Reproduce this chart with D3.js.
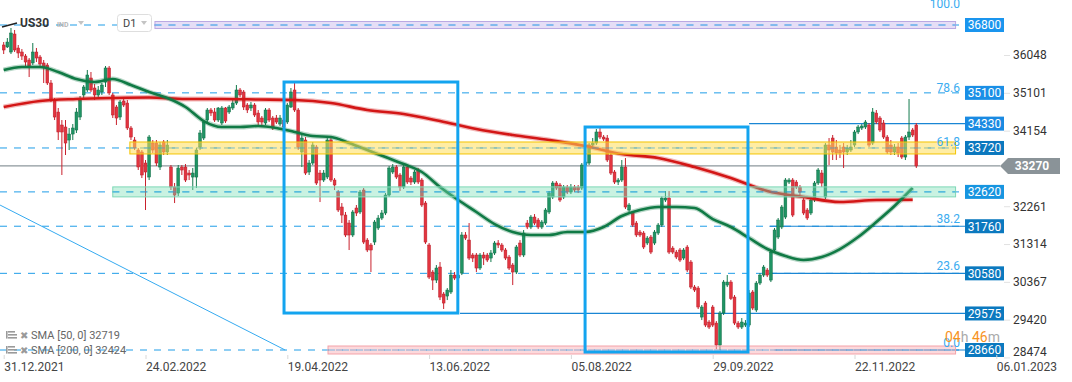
<!DOCTYPE html>
<html>
<head>
<meta charset="utf-8">
<script src="https://cdn.jsdelivr.net/npm/d3@7"></script>
<style>
  body { margin: 0; background: #fff; }
  svg { display: block; font-family: Roboto, "Open Sans", sans-serif; }
</style>
</head>
<body>
<script>
const W = 1072;
const H = 382;

// daily candles, 31.12.2021 .. 15.12.2022
const openP = [
  36299,36249,36123,36574,36224,36123,36023,35923,35848,36123,
  35998,35848,35798,35347,34921,34620,34295,34245,33919,34069,
  34170,34495,35047,35172,35472,35222,35047,35122,35372,35723,
  35047,34746,34495,34896,34846,34220,33919,33669,33619,33343,
  32992,33844,33844,33243,33869,33619,33243,32742,32591,33243,
  33243,33092,32992,32992,33744,33969,34420,34671,34621,34420,
  34345,34721,34621,34721,34846,35172,35122,34796,34721,34796,
  34595,34470,34345,34671,34470,34470,34320,34420,34370,34746,
  35172,34671,33619,33919,33118,33343,33744,33092,32917,32992,
  33919,32917,32616,32241,32040,31840,31540,32216,32116,32667,
  31414,31289,31364,31715,31965,32091,32541,33118,33243,33043,
  32742,33243,32967,32867,33168,32917,32341,31289,30612,30412,
  30738,30062,30011,30112,30537,30462,30587,31540,31414,31039,
  31039,30713,31039,31039,30963,31089,31339,31289,31164,30988,
  30788,30613,31339,31039,31840,31740,31990,31915,31740,31840,
  32116,32491,32842,32792,32491,32742,32616,32742,32742,32717,
  33293,33343,33794,33844,34120,33994,33969,33544,33118,32867,
  32917,33243,32166,32091,31840,31614,31589,31339,31489,31339,
  31589,31790,32416,32466,31212,31113,31164,30963,31239,30863,
  30237,30212,29485,29836,29360,29736,29335,28784,29586,30287,
  30362,29986,29335,29235,29285,29285,30112,29661,30337,30537,
  30663,30412,31164,31489,31740,31990,32867,32917,32867,32742,
  32416,32166,32091,32416,32842,33092,32491,33794,33969,33744,
  33669,33744,33619,33669,33794,34120,34220,34245,34295,33844,
  34595,34470,34345,33994,33794,33619,33744,33969,33493,33994,
  34170,34295
];
const highP = [
  36374,36474,36725,36675,36299,36198,36073,35973,36349,36224,
  36048,35923,35848,35422,34971,34721,34420,34420,34220,34320,
  34721,35021,35297,35673,35623,35322,35272,35347,35773,35773,
  35097,34796,34921,34971,34921,34270,33994,33718,33669,33418,
  34045,33919,33919,33869,33919,33919,33293,32842,33293,33293,
  33318,33168,33218,33719,34170,34420,34721,34721,34721,34746,
  34771,34746,34796,34921,35297,35222,35172,34846,34871,34846,
  34671,34520,34721,34721,34520,34546,34546,34470,34846,35222,
  35372,34721,34045,33994,33418,33869,33794,33168,33168,33969,
  33969,32967,32667,32341,32116,31915,32166,32291,32667,32717,
  31464,31339,31915,32040,32166,32591,33268,33318,33293,33092,
  33343,33293,33017,33168,33218,32967,32391,31339,30663,30788,
  30863,30112,30212,30663,30613,30663,31614,31614,31840,31089,
  31089,31089,31114,31089,31164,31389,31414,31339,31214,31039,
  30838,31289,31414,31665,31915,32040,32065,31965,31915,32216,
  32641,32892,32892,32842,32792,32792,32817,32792,32792,33343,
  33544,33844,33969,34195,34220,34045,34045,33644,33168,32967,
  33418,33468,32341,32141,31890,31665,31639,31514,31540,31665,
  31840,32510,32641,32641,31262,31164,31214,31214,31289,30913,
  30287,30262,29786,29886,29410,29786,29385,29636,30412,30538,
  30412,30036,29385,29460,29410,30162,30162,30387,30587,30788,
  30713,31164,31715,31965,32291,32967,32967,32967,32917,32792,
  32466,32216,32466,32892,33218,33168,33844,33969,34045,33919,
  33794,33844,33794,33919,34170,34295,34320,34420,34345,34721,
  34671,34520,34420,34045,33919,33819,33844,34019,34045,34946,
  34220,34345
];
const lowP = [
  36073,36224,36073,36123,35973,35923,35773,35497,35798,35873,
  35773,35347,35297,34871,34420,33919,33043,33544,33669,33919,
  34095,34420,34971,35122,35122,34921,34971,35047,35247,35047,
  34470,34295,34420,34746,34170,33919,33669,33168,32967,32166,
  32917,33593,33268,33168,33544,33544,32667,32341,32516,33043,
  32867,32917,32667,32717,33669,33919,34370,34520,34370,34370,
  34295,34345,34571,34671,34796,34997,34671,34595,34645,34495,
  34295,34245,34295,34370,34170,34320,34270,34195,34320,34721,
  34621,33669,33243,33043,33043,33293,32792,32366,32867,32942,
  32867,32667,32116,31840,31489,31164,31489,32015,32065,31314,
  31113,30613,31289,31665,31915,32040,32491,33067,32942,32642,
  32692,32817,32792,32817,32817,32241,31314,30437,30162,30337,
  29911,29687,29911,30062,30412,30412,30537,31414,30913,30863,
  30613,30663,30788,30863,30863,31039,31214,31113,30913,30663,
  30287,30563,30988,30988,31689,31689,31790,31689,31689,31790,
  32065,32441,32667,32366,32441,32566,32566,32616,32591,32667,
  33243,33293,33744,33794,33944,33894,33368,33043,32817,32792,
  32867,32191,32116,31740,31489,31489,31189,31289,31063,31289,
  31540,31740,32366,31063,31063,30938,30863,30913,30613,30187,
  30112,29686,29410,29235,29185,29235,28684,28659,29536,30237,
  29911,29285,29185,29185,29235,29235,29661,29611,30287,30487,
  30487,30362,31113,31439,31689,31940,32817,31990,32692,32541,
  32040,31915,32040,32366,32792,32742,32441,33293,33418,33418,
  33468,33218,33544,33619,33744,34069,34170,34195,33744,33794,
  34320,34120,33944,33569,33544,33544,33493,33443,33418,33919,
  33994,33218
];
const closeP = [
  36174,36374,36599,36174,36098,36023,35873,35773,36123,35973,
  35823,35748,35347,34921,34495,34120,34120,33844,34069,34220,
  34620,34921,35247,35548,35172,35047,35172,35297,35723,35097,
  34546,34470,34871,34796,34220,33994,33718,33243,33043,33118,
  33994,33669,33343,33794,33619,33794,32742,32541,33218,33168,
  32917,33043,33092,33669,34095,34370,34671,34596,34420,34721,
  34721,34395,34746,34846,35172,35047,34746,34671,34796,34546,
  34370,34370,34671,34420,34220,34370,34470,34245,34796,35122,
  34671,33744,33969,33092,33343,33794,32842,32917,33092,33919,
  32917,32792,32166,32040,31540,31540,32116,32091,32616,31364,
  31164,31164,31865,31965,32091,32541,33218,33243,32992,32742,
  33243,32867,32867,33118,32867,32291,31364,30487,30412,30713,
  29986,29836,30162,30537,30462,30537,31540,31464,30963,30963,
  30713,31039,30963,30913,31089,31339,31289,31164,30963,30713,
  30613,31239,31039,31589,31740,31990,31840,31740,31865,32166,
  32591,32842,32717,32416,32742,32616,32742,32667,32667,33293,
  33368,33794,33844,34120,33994,33944,33418,33092,32867,32917,
  33243,32241,32291,31790,31540,31540,31239,31464,31113,31614,
  31790,32466,32466,31113,31113,30988,30913,31164,30663,30237,
  30162,29736,29736,29285,29235,29285,28784,29586,30362,30362,
  29951,29335,29235,29360,29335,30086,29711,30337,30537,30738,
  30537,31113,31665,31915,32241,32917,32917,32040,32742,32616,
  32091,31965,32416,32842,33168,32842,33794,33669,33619,33594,
  33594,33619,33719,33744,34120,34245,34270,34370,33794,34620,
  34370,34170,33994,33619,33619,33744,33594,33493,33994,34120,
  34045,33270
];

// moving averages (every 5th / 10th bar)
const sma50Idx = d3.range(0, 251, 5);
const sma50Val = [
  35673,35748,35748,35623,35447,35372,35447,35297,35122,34971,
  34746,34395,34245,34245,34270,34220,34120,34020,33994,33844,
  33669,33493,33318,33118,32742,32416,32116,31815,31615,31540,
  31540,31615,31615,31740,32015,32166,32241,32241,32216,31940,
  31740,31465,31189,31013,30913,30988,31189,31490,31865,32266,
  32719
];
const sma200Idx = d3.range(0, 251, 10);
const sma200Val = [
  34746,34896,34946,34971,34984,34946,34946,34934,34921,34846,
  34671,34571,34395,34195,34045,33919,33769,33569,33469,33243,
  32967,32642,32491,32366,32416,32424
];

// horizontal levels and labels
const levels = [36800, 35100, 34330, 33720, 32620, 31760, 30580, 29575, 28660];
const dashedLevels = [36800, 35100, 33720, 32620, 31760, 30580, 28660];
const fibLevels = ["0.0", "23.6", "38.2", "61.8", "78.6", "100.0"];
const fibLow = 28660;
const fibHigh = 36800;
const lastPrice = 33270;
const axisTicks = [36048, 35101, 34154, 32261, 31314, 30367, 29420, 28474];
const dateTickIdx = [0, 39, 78, 117, 156, 195, 234, 273];
const dateLabels = ["31.12.2021", "24.02.2022", "19.04.2022", "13.06.2022",
  "05.08.2022", "29.09.2022", "22.11.2022", "06.01.2023"];

// drawings on the chart (bar index / price)
const boxStart = [77.1, 159.9];
const boxEnd = [124.9, 204.7];
const boxTop = [35372, 34245];
const boxBottom = [29586, 28609];
const bandLevel = [36800, 33720, 32620, 28660];
const bandHalf = [88, 150, 125, 100];
const bandStart = [41.6, 34.7, 30, 89.2];
const solidLevel = [34330, 29575, 31760, 30580, 28660];
const solidStart = [205, 125.5, 210.6, 210.6, 212];
const trendIdx = [-1, 77.4];
const trendVal = [32290, 28660];

const svg = d3
  .select("body")
  .append("svg")
  .attr("width", W)
  .attr("height", H);

const x = d3.scaleLinear().domain([0, 273]).range([3.7, 996.3]);
const y = d3.scaleLinear().domain([36800, 28660]).range([25, 350]);
const endIdx = 263;

// dashed levels
svg
  .selectAll("line.lvl")
  .data(dashedLevels)
  .enter()
  .append("line")
  .attr("x1", 0)
  .attr("x2", x(endIdx))
  .attr("y1", d => y(d))
  .attr("y2", d => y(d))
  .attr("stroke", "#1f9de8")
  .attr("stroke-width", 1)
  .attr("stroke-dasharray", "7,7");

// solid levels (fib / swing lines)
svg
  .selectAll("line.sol")
  .data(solidLevel)
  .enter()
  .append("line")
  .attr("x1", (d, i) => x(solidStart[i]))
  .attr("x2", x(264.4))
  .attr("y1", d => y(d))
  .attr("y2", d => y(d))
  .attr("stroke", "#1a86d4")
  .attr("stroke-width", 1.2);

// current price line
svg
  .append("line")
  .attr("x1", 0)
  .attr("x2", 1000)
  .attr("y1", y(lastPrice))
  .attr("y2", y(lastPrice))
  .attr("stroke", "#8d979c")
  .attr("stroke-width", 1.2);

// trend line
svg
  .append("line")
  .attr("x1", x(trendIdx[0]))
  .attr("y1", y(trendVal[0]))
  .attr("x2", x(trendIdx[1]))
  .attr("y2", y(trendVal[1]))
  .attr("stroke", "#35aaf0")
  .attr("stroke-width", 1);

// candles
const candles = closeP.map((c, i) => ({ i, o: openP[i], h: highP[i], l: lowP[i], c }));
const up = d => d.c >= d.o;

svg
  .append("g")
  .selectAll("line")
  .data(candles)
  .enter()
  .append("line")
  .attr("x1", d => x(d.i))
  .attr("x2", d => x(d.i))
  .attr("y1", d => y(d.h))
  .attr("y2", d => y(d.l))
  .attr("stroke", d => (up(d) ? "#137a4d" : "#c9212d"))
  .attr("stroke-width", 1);

svg
  .append("g")
  .selectAll("rect")
  .data(candles)
  .enter()
  .append("rect")
  .attr("x", d => x(d.i) - 1.4)
  .attr("width", 2.8)
  .attr("y", d => y(Math.max(d.o, d.c)))
  .attr("height", d => Math.max(1, Math.abs(y(d.o) - y(d.c))))
  .attr("fill", d => (up(d) ? "#1f9464" : "#e3343f"))
  .attr("stroke", d => (up(d) ? "#0f6d45" : "#b81d29"))
  .attr("stroke-width", 0.5);

// moving averages
const smaLine = d3
  .line()
  .x(d => x(d[0]))
  .y(d => y(d[1]))
  .curve(d3.curveMonotoneX);

const sma50 = sma50Idx.map((d, i) => [d, sma50Val[i]]);
const sma200 = sma200Idx.map((d, i) => [d, sma200Val[i]]);

[[sma200, "#d31616"], [sma50, "#107a45"]].forEach(([pts, col]) => {
  svg
    .append("path")
    .attr("d", smaLine(pts))
    .attr("fill", "none")
    .attr("stroke", col)
    .attr("stroke-opacity", 0.3)
    .attr("stroke-width", 5);
  svg
    .append("path")
    .attr("d", smaLine(pts))
    .attr("fill", "none")
    .attr("stroke", col)
    .attr("stroke-width", 2.6);
});

// zones
const bandFill = ["rgba(205,190,238,0.5)", "rgba(255,222,90,0.55)", "rgba(120,222,180,0.4)", "rgba(250,180,185,0.5)"];
const bandStroke = ["#bba8e2", "#f4c400", "#7fd7b6", "#f3a3a8"];

svg
  .selectAll("rect.band")
  .data(bandLevel)
  .enter()
  .append("rect")
  .attr("x", (d, i) => x(bandStart[i]))
  .attr("width", (d, i) => x(261.8) - x(bandStart[i]))
  .attr("y", (d, i) => y(d + bandHalf[i]))
  .attr("height", (d, i) => y(d - bandHalf[i]) - y(d + bandHalf[i]))
  .attr("fill", (d, i) => bandFill[i])
  .attr("stroke", (d, i) => bandStroke[i])
  .attr("stroke-width", 1);

// dashed lines again over the zones
svg
  .selectAll("line.lvl2")
  .data(bandLevel)
  .enter()
  .append("line")
  .attr("x1", (d, i) => x(bandStart[i]))
  .attr("x2", x(261.8))
  .attr("y1", d => y(d))
  .attr("y2", d => y(d))
  .attr("stroke", "#1f9de8")
  .attr("stroke-opacity", 0.6)
  .attr("stroke-dasharray", "7,7");

// blue boxes
svg
  .selectAll("rect.box")
  .data(boxStart)
  .enter()
  .append("rect")
  .attr("x", d => x(d))
  .attr("width", (d, i) => x(boxEnd[i]) - x(d))
  .attr("y", (d, i) => y(boxTop[i]))
  .attr("height", (d, i) => y(boxBottom[i]) - y(boxTop[i]))
  .attr("fill", "none")
  .attr("stroke", "#13a4ef")
  .attr("stroke-width", 3);

// fib labels
svg
  .selectAll("text.fib")
  .data(fibLevels)
  .enter()
  .append("text")
  .attr("x", 960)
  .attr("y", d => (d === "100.0" ? 8 : y(fibLow + (+d / 100) * (fibHigh - fibLow)) - 3))
  .attr("text-anchor", "end")
  .style("font-size", "12px")
  .style("fill", "#3aacf0")
  .text(d => d);

// right level boxes
const boxColor = ["#1a95ee", "#1a8fe6", "#1a8ae2", "#0b78be", "#1795e0", "#0b79bf", "#0b79bf", "#0b79bf", "#0b79bf"];
const rl = svg.append("g");
rl.selectAll("rect")
  .data(levels)
  .enter()
  .append("rect")
  .attr("x", 965)
  .attr("width", 39)
  .attr("y", d => y(d) - 7)
  .attr("height", 14)
  .attr("fill", (d, i) => boxColor[i]);
rl.selectAll("text")
  .data(levels)
  .enter()
  .append("text")
  .attr("x", 984.5)
  .attr("y", d => y(d))
  .attr("dy", "0.36em")
  .attr("text-anchor", "middle")
  .style("font-size", "12px")
  .style("fill", "#fff")
  .text(d => d);

// price axis
const yAxis = svg
  .append("g")
  .attr("transform", "translate(1004,0)")
  .call(d3.axisRight(y).tickValues(axisTicks).tickSize(6).tickPadding(3).tickFormat(d3.format("d")));
yAxis.select(".domain").remove();
yAxis.selectAll("line").attr("stroke", "#e2e2e2");
yAxis.selectAll("text").style("font-size", "12px").style("fill", "#333").style("font-family", "Roboto");
yAxis.selectAll(".tick").filter(d => d === 28474).select("text").attr("y", -6);

// current price tag
svg
  .append("polygon")
  .attr("points", "1000,167 1008,159 1060,159 1060,175 1008,175")
  .attr("transform", "translate(0," + (y(lastPrice) - 167) + ")")
  .attr("fill", "#8a9398");
svg
  .append("text")
  .attr("x", 1032)
  .attr("y", y(lastPrice))
  .attr("dy", "0.36em")
  .attr("text-anchor", "middle")
  .style("font-size", "12px")
  .style("font-weight", "bold")
  .style("fill", "#fff")
  .text(lastPrice);

// date axis
const xAxis = svg
  .append("g")
  .attr("transform", "translate(0,355)")
  .call(d3.axisBottom(x).tickValues(dateTickIdx).tickSize(4).tickPadding(3).tickFormat((d, i) => dateLabels[i]));
xAxis.select(".domain").remove();
xAxis.selectAll("line").attr("stroke", "#d8d8d8");
xAxis
  .selectAll("text")
  .attr("text-anchor", "start")
  .attr("x", 0)
  .style("font-size", "12px")
  .style("fill", "#444")
  .style("font-family", "Roboto");

// countdown
const cd = svg
  .append("text")
  .attr("x", 945)
  .attr("y", 342)
  .style("font-size", "14px");
cd.append("tspan").style("fill", "#f7931e").text("04");
cd.append("tspan").style("fill", "#aaa").text("h ");
cd.append("tspan").style("fill", "#f7931e").text("46");
cd.append("tspan").style("fill", "#aaa").text("m");

// title
svg
  .append("line")
  .attr("x1", 2)
  .attr("y1", 27)
  .attr("x2", 17)
  .attr("y2", 23)
  .attr("stroke", "#222")
  .attr("stroke-width", 1.5);
svg
  .append("text")
  .attr("x", 20)
  .attr("y", 27)
  .style("font-size", "12px")
  .style("font-weight", "bold")
  .style("fill", "#333")
  .text("US30");
svg
  .append("text")
  .attr("x", 57)
  .attr("y", 27)
  .style("font-size", "7px")
  .style("font-weight", "bold")
  .style("fill", "#b5b5b5")
  .text("IND");
svg
  .append("path")
  .attr("d", "M78,21 L84,21 L81,25 Z")
  .attr("fill", "#c4c4c4");
svg
  .append("rect")
  .attr("x", 117.5)
  .attr("y", 14.5)
  .attr("width", 34)
  .attr("height", 17)
  .attr("rx", 3)
  .attr("fill", "#fff")
  .attr("stroke", "#dedede");
svg
  .append("text")
  .attr("x", 123)
  .attr("y", 27)
  .style("font-size", "11px")
  .style("fill", "#444")
  .text("D1");
svg
  .append("path")
  .attr("d", "M141,21 L147,21 L144,25 Z")
  .attr("fill", "#c4c4c4");

// legend
const legendText = ["SMA [50, 0] 32719", "SMA [200, 0] 32424"];
const lg = svg.append("g");
legendText.forEach((t, i) => {
  const yy = 339 + i * 15;
  [0, 3, 6].forEach(k =>
    lg
      .append("rect")
      .attr("x", 8)
      .attr("y", yy - 8 + k)
      .attr("width", k === 0 ? 7 : 9)
      .attr("height", 1.6)
      .attr("fill", "#9a9a9a")
  );
  lg.append("rect").attr("x", 6).attr("y", yy - 8).attr("width", 1.6).attr("height", 7.6).attr("fill", "#9a9a9a");
  lg.append("text")
    .attr("x", 20)
    .attr("y", yy)
    .style("font-size", "10px")
    .style("fill", "#9a9a9a")
    .text("\u2716");
  lg.append("text")
    .attr("x", 31)
    .attr("y", yy)
    .style("font-size", "11px")
    .style("fill", "#666")
    .text(t);
});
</script>
</body>
</html>
